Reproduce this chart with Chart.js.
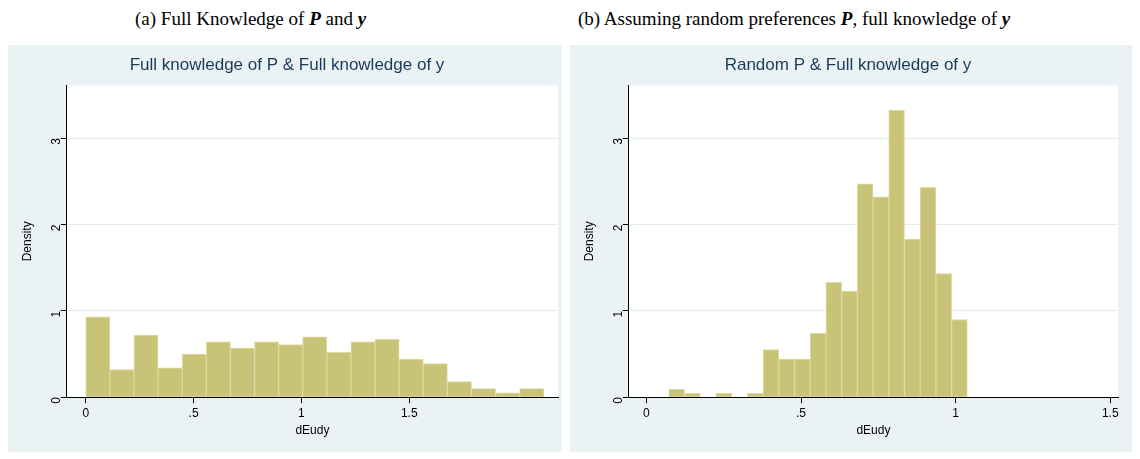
<!DOCTYPE html>
<html><head><meta charset="utf-8">
<script src="https://cdn.jsdelivr.net/npm/chart.js@4"></script>
<style>
body{margin:0;background:#fff;width:1140px;height:459px;overflow:hidden}
.cap{position:absolute;top:8px;font-size:19px;font-family:"Liberation Serif",serif;color:#000}
.panel{position:absolute;top:45px;height:407px;background:#eaf2f3}
</style></head><body>
<div class="cap" style="left:135px">(a) Full Knowledge of <i><b>P</b></i> and <i><b>y</b></i></div>
<div class="cap" style="left:578px">(b) Assuming random preferences <i><b>P</b></i>, full knowledge of <i><b>y</b></i></div>
<div class="panel" style="left:8px;width:554px"><canvas id="left"></canvas></div>
<div class="panel" style="left:570px;width:562px"><canvas id="right"></canvas></div>
<script>
// left histogram: bins start at 0, width ~0.112
const leftStart = 0, leftWidth = 0.1118;
const leftDensity = [0.93,0.32,0.72,0.34,0.50,0.64,0.57,0.64,0.61,0.70,0.52,0.64,0.67,0.44,0.39,0.18,0.10,0.05,0.10];
// right histogram: bins start at ~0.0725, width ~0.0508
const rightStart = 0.0725, rightWidth = 0.0508;
const rightDensity = [0.09,0.045,0,0.045,0,0.045,0.55,0.44,0.44,0.74,1.33,1.23,2.47,2.32,3.32,1.83,2.43,1.43,0.90];
const xTicks = [0,0.5,1,1.5];
const yTicks = [0,1,2,3];
const tickText = v => v === 0 ? '0' : (v < 1 ? String(v).replace('0.', '.') : String(v));

const whiteArea = {id:'whiteArea', beforeDraw(c){const a=c.chartArea,x=c.ctx;x.save();x.fillStyle='#fff';x.fillRect(a.left,a.top,a.right-a.left,a.bottom-a.top);x.restore();}};

function makeChart(id, title, start, width, dens, xmin, xmax, pad){
  const pts = dens.map((d,i)=>({x:start+width*(i+0.5), y:d}));
  new Chart(document.getElementById(id), {
    type:'bar',
    data:{datasets:[{data:pts, backgroundColor:'#c9c378', borderColor:'#ddd9a0', borderWidth:1, barPercentage:1, categoryPercentage:1}]},
    options:{
      responsive:true, maintainAspectRatio:false, animation:false,
      layout:{padding:pad},
      plugins:{legend:{display:false}, tooltip:{enabled:false},
        title:{display:true, text:title, color:'#1a3a5a', font:{family:'Liberation Sans', size:17, weight:'normal'}, padding:{top:10,bottom:10}}},
      scales:{
        x:{type:'linear', offset:false, min:xmin, max:xmax, afterBuildTicks:a=>{a.ticks=xTicks.map(v=>({value:v}));},
          ticks:{color:'#000', font:{family:'Liberation Sans', size:12}, callback:tickText},
          grid:{drawOnChartArea:false, tickColor:'#000', tickLength:6, offset:false},
          border:{color:'#000'},
          title:{display:true, text:'dEudy', color:'#000', font:{family:'Liberation Sans', size:12}, padding:{top:0}}},
        y:{min:0, max:3.61, afterBuildTicks:a=>{a.ticks=yTicks.map(v=>({value:v}));},
          ticks:{color:'#000', font:{family:'Liberation Sans', size:12}, minRotation:90, maxRotation:90, padding:4},
          grid:{color:'#e3eded', tickColor:'#000', tickLength:6},
          border:{color:'#000'},
          title:{display:true, text:'Density', color:'#000', font:{family:'Liberation Sans', size:12}}}
      }
    },
    plugins:[whiteArea]
  });
}
makeChart('left','Full knowledge of P & Full knowledge of y', leftStart, leftWidth, leftDensity, -0.088, 2.19, {left:8,right:4,bottom:10});
makeChart('right','Random P & Full knowledge of y', rightStart, rightWidth, rightDensity, -0.057, 1.525, {left:8,right:14,bottom:10});
</script>
</body></html>
